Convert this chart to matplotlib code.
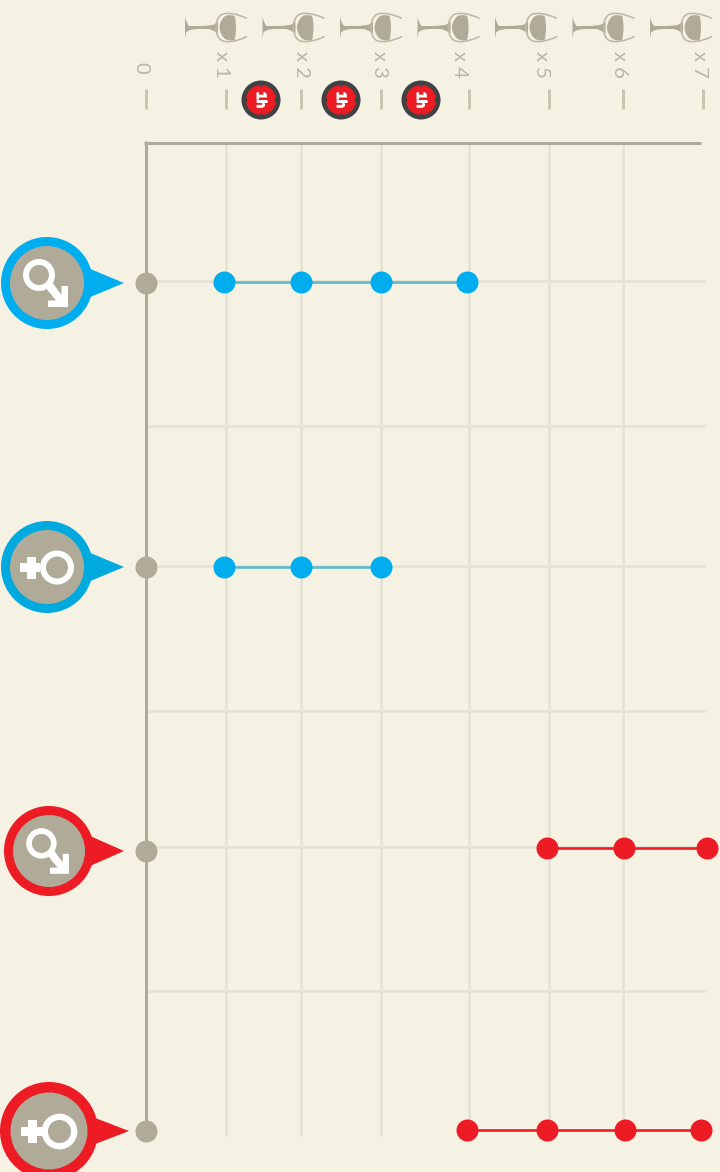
import numpy as np
import matplotlib
matplotlib.use("Agg")
import matplotlib.pyplot as plt
import matplotlib.patheffects as pe
from matplotlib.patches import Circle, Polygon, PathPatch, Rectangle
from matplotlib.path import Path

# glasses of wine per row
male_1 = [0.97, 2.0, 3.0, 3.98]
female_1 = [0.97, 2.0, 3.0]
male_2 = [4.98, 6.01, 7.05]
female_2 = [3.98, 4.98, 6.03, 6.97]
tick_values = [0, 1, 2, 3, 4, 5, 6, 7]
tick_labels = ["0", "x 1", "x 2", "x 3", "x 4", "x 5", "x 6", "x 7"]
badge_text = ["1h", "1h", "1h"]

BG = "#f5f2e4"
GREY = "#b0ab98"
GRID = "#e7e4d5"
TICK = "#c9c6b2"
LABEL = "#bab6a4"
BLUE = "#00aeef"
BLUE2 = "#00a9de"
LINE_BLUE = "#5cb8cc"
RED = "#ed1c24"
DARK = "#414042"

W, H = 720, 1172
PX = 72 / 100  # one pixel in points

# the axis is not evenly spaced in the original
anchor_val = np.array([-3, 0, 1, 2, 3, 4, 5, 6, 7, 9])
anchor_px = np.array([-94, 146, 226, 301, 381, 469, 549, 623, 703, 863])


def to_px(v):
    return np.interp(v, anchor_val, anchor_px)


def from_px(p):
    return np.interp(p, anchor_px, anchor_val)


fig = plt.figure(figsize=(W / 100, H / 100), dpi=100, facecolor=BG)

ax = fig.add_axes([0, 0, 1, 1])
ax.set_xscale("function", functions=(to_px, from_px))
ax.set_xlim(from_px(0), from_px(W))
ax.set_ylim(H, 0)
ax.axis("off")

# same area, plain pixels, for the pictograms
deco = fig.add_axes([0, 0, 1, 1])
deco.set_xlim(0, W)
deco.set_ylim(H, 0)
deco.axis("off")
deco.patch.set_alpha(0)

# grid, nothing at x 7
grid_bottom = [1136, 1136, 1136, 1120, 1120, 1120]
for v, b in zip(tick_values[1:7], grid_bottom):
    ax.plot([v, v], [142, b], color=GRID, lw=3 * PX, zorder=1, solid_capstyle="butt")
for y in [281, 426, 566, 711, 847, 991]:
    ax.plot([0, from_px(705)], [y, y], color=GRID, lw=3 * PX, zorder=1, solid_capstyle="butt")

# axis frame and detached ticks
ax.plot([0, 0], [141, 1125], color=GREY, lw=3 * PX, zorder=2, solid_capstyle="butt")
ax.plot([-0.02, 6.98], [142.5, 142.5], color=GREY, lw=3 * PX, zorder=2, solid_capstyle="butt")
for v in tick_values:
    ax.plot([v, v], [89, 109], color=TICK, lw=3 * PX, zorder=2, solid_capstyle="butt")

label_x = [141, 222, 301, 380, 460, 541, 620, 700]
for x, s in zip(label_x, tick_labels):
    deco.text(x, 51 if s != "0" else 62, s, rotation=-90, ha="center", va="top",
              color=LABEL, fontsize=14.5, family="Lato")

# rows
rows = [
    (male_1, 282, 283, BLUE, LINE_BLUE),
    (female_1, 567, 567, BLUE, LINE_BLUE),
    (male_2, 848, 851, RED, RED),
    (female_2, 1130, 1131, RED, RED),
]
for vals, y, axis_y, col, line_col in rows:
    ys = [y] * len(vals)
    ax.plot(vals, ys, color=line_col, lw=2.6 * PX, zorder=3)
    ax.scatter(vals, ys, s=(22 * PX) ** 2, color=col, linewidths=0, zorder=4)
    ax.scatter([0], [axis_y], s=(22 * PX) ** 2, color=GREY, linewidths=0, zorder=4)


def curve_path(x0, y0, offsets):
    pts = [(x0 + dx, y0 + dy) for dx, dy in offsets]
    return Path(pts, [Path.MOVETO] + [Path.CURVE4] * (len(pts) - 1))


def wine_glass(x0, y0=27.5):
    # base and stem
    stem = Path([(x0, y0 - 11), (x0 + 1, y0 - 5), (x0 + 4, y0 - 1.5), (x0 + 14, y0 - 1.5),
                 (x0 + 24, y0 - 1.5), (x0 + 29, y0 - 3), (x0 + 33, y0 - 6),
                 (x0 + 33, y0 + 6), (x0 + 29, y0 + 3), (x0 + 24, y0 + 1.5), (x0 + 14, y0 + 1.5),
                 (x0 + 4, y0 + 1.5), (x0 + 1, y0 + 5), (x0, y0 + 11), (x0, y0 - 11)],
                [Path.MOVETO, Path.CURVE3, Path.CURVE3, Path.LINETO, Path.CURVE3, Path.CURVE3,
                 Path.LINETO, Path.LINETO, Path.CURVE3, Path.CURVE3, Path.LINETO,
                 Path.CURVE3, Path.CURVE3, Path.LINETO, Path.CLOSEPOLY])
    deco.add_patch(PathPatch(stem, fc=GREY, ec="none", zorder=5))
    # bowl outline
    bowl = [(62, -9), (52, -14), (42, -15), (38, -13.5), (33, -12), (31, -6), (31, 0),
            (31, 6), (33, 12), (38, 13.5), (42, 15), (52, 14), (62, 9)]
    deco.add_patch(PathPatch(curve_path(x0, y0, bowl), fc="none", ec="#bdb9a6",
                             lw=1.6 * PX, zorder=5))
    # wine
    wine = [(49.5, -11.5), (45, -13), (41, -12.5), (39, -10.5), (36, -7.5), (34.5, -3), (34.5, 0),
            (34.5, 3), (36, 7.5), (39, 10.5), (41, 12.5), (45, 13.5), (49.5, 12.5),
            (51.5, 6), (51.5, -6), (49.5, -11.5)]
    deco.add_patch(PathPatch(curve_path(x0, y0, wine), fc=GREY, ec="none", zorder=6))


for x0 in [185, 262.5, 340, 417.5, 495, 572.5, 650]:
    wine_glass(x0)

# one hour badges
for x, s in zip([261, 341, 421], badge_text):
    deco.add_patch(Circle((x, 100), 19.5, fc=DARK, ec="none", zorder=5))
    deco.add_patch(Circle((x, 100), 15, fc=RED, ec="none", zorder=6))
    for dx, dy in [(-15, 0), (15, 0), (0, -15), (0, 15)]:
        deco.add_patch(Circle((x + dx, 100 + dy), 1.6, fc=DARK, ec="none", zorder=7))
    deco.text(x, 100, s, rotation=-90, ha="center", va="center", color="white",
              fontsize=10, fontweight="bold", family="Liberation Sans", zorder=8,
              path_effects=[pe.withStroke(linewidth=0.7, foreground="white")])


def pin(cx, cy, r_out, r_in, tip, col):
    deco.add_patch(Polygon([(cx + 41, cy - 15), (tip, cy), (cx + 41, cy + 15)], fc=col, ec="none", zorder=5))
    deco.add_patch(Circle((cx, cy), r_out, fc=col, ec="none", zorder=5))
    deco.add_patch(Circle((cx, cy), r_in, fc=GREY, ec="none", zorder=6))


def male_icon(cx, cy, k=1.0):
    rx, ry = cx - 8 * k, cy - 8 * k
    deco.add_patch(Circle((rx, ry), 13 * k, fc="none", ec="white", lw=6 * k * PX, zorder=7))
    deco.add_patch(Polygon([(cx + 21 * k, cy + 24 * k), (cx + 1 * k, cy + 24 * k), (cx + 1 * k, cy + 17.5 * k),
                            (cx + 9 * k, cy + 17.5 * k), (rx + 6.5 * k, ry + 12.5 * k), (rx + 12.5 * k, ry + 6.5 * k),
                            (cx + 14.5 * k, cy + 12 * k), (cx + 14.5 * k, cy + 3 * k), (cx + 21 * k, cy + 3 * k)],
                           fc="white", ec="none", zorder=7))


def female_icon(cx, cy, k=1.0):
    rx = cx + 10 * k
    deco.add_patch(Circle((rx, cy + 0.5), 14 * k, fc="none", ec="white", lw=6 * k * PX, zorder=7))
    deco.add_patch(Rectangle((cx - 27 * k, cy - 4 * k), 20 * k, 9 * k, fc="white", ec="none", zorder=7))
    deco.add_patch(Rectangle((cx - 20 * k, cy - 10.5 * k), 9 * k, 22 * k, fc="white", ec="none", zorder=7))


pin(47, 283, 46, 37, 124, BLUE)
male_icon(47, 283)
pin(47, 567, 46, 37, 124, BLUE2)
female_icon(47, 567)
pin(49, 851, 45, 36, 124, RED)
male_icon(49, 851, 0.95)
pin(49, 1131, 49, 38.5, 129, RED)
female_icon(49, 1131, 1.05)

fig.savefig("out.png", dpi=100, facecolor=BG)
